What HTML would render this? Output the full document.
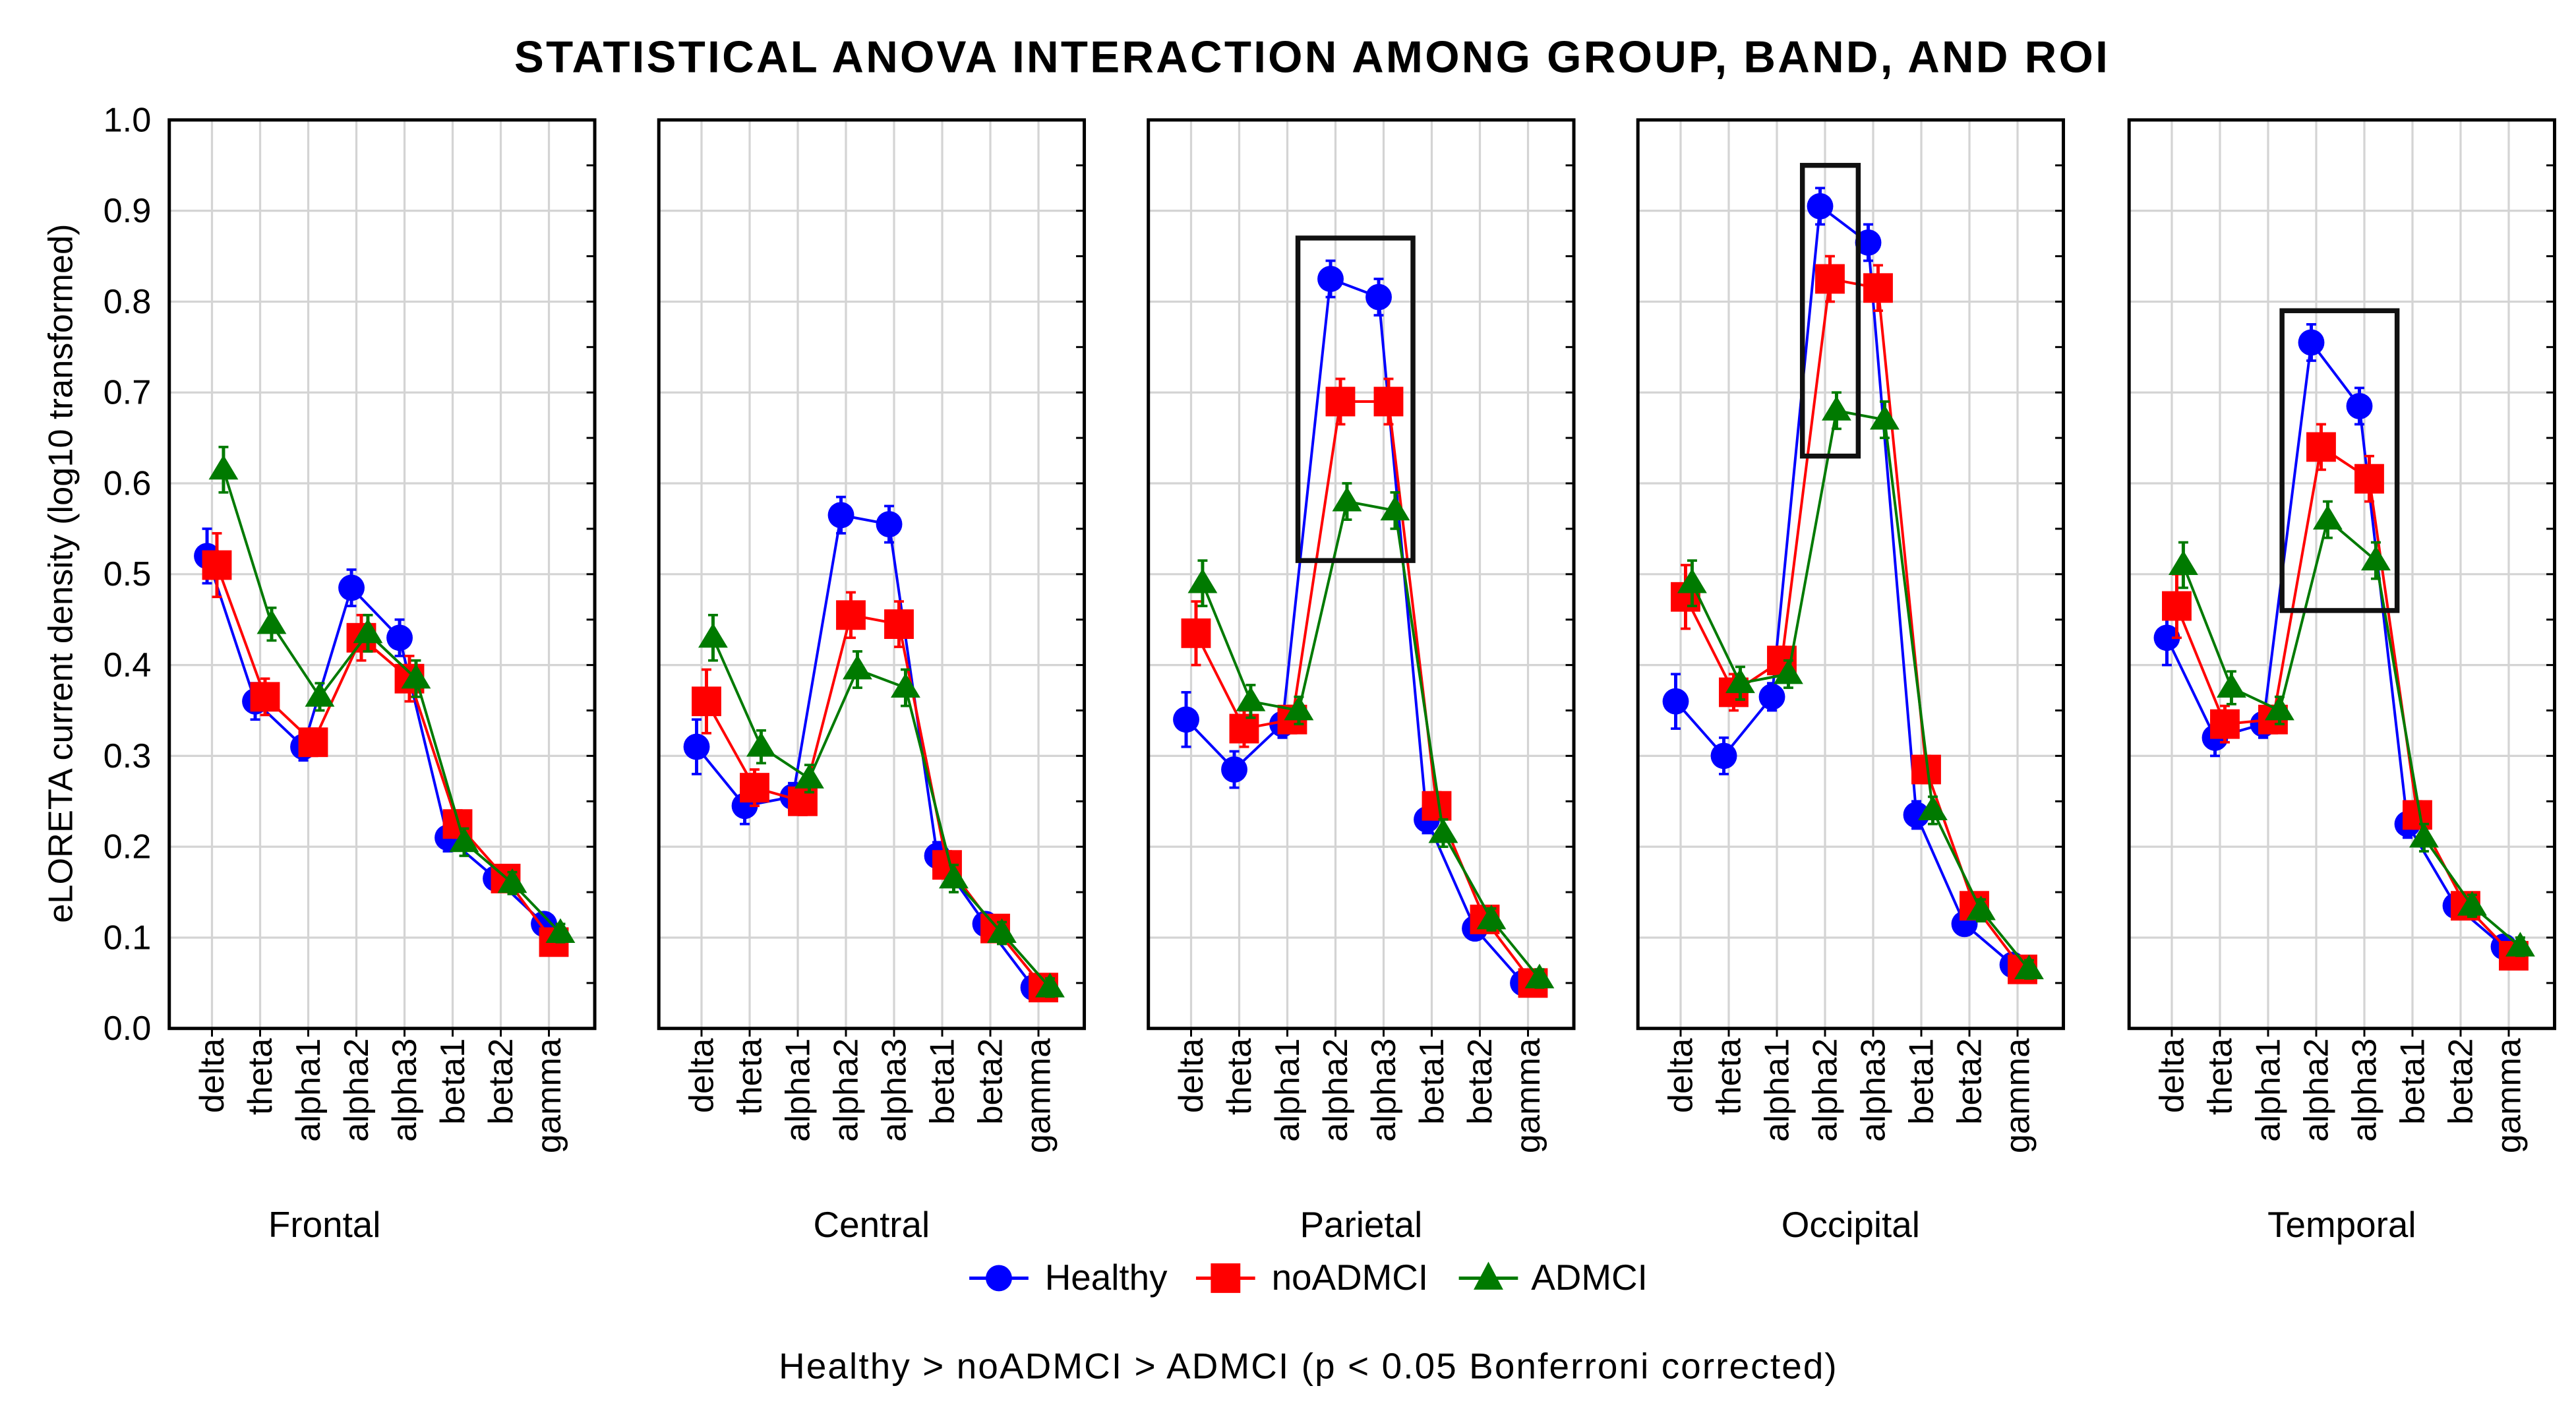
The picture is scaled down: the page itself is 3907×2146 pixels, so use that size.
<!DOCTYPE html>
<html><head><meta charset="utf-8"><style>
html,body{margin:0;padding:0;background:#fff}
svg{display:block}
text{font-family:"Liberation Sans",Arial,sans-serif}
</style></head><body>
<svg id="chart" xmlns="http://www.w3.org/2000/svg" width="3907" height="2146" viewBox="0 0 1568 861.3">
<rect width="1568" height="861.3" fill="#fff"/>
<text x="798" y="44" text-anchor="middle" font-size="27" font-weight="bold" textLength="970">STATISTICAL ANOVA INTERACTION AMONG GROUP, BAND, AND ROI</text>
<text transform="translate(44,349) rotate(-90)" text-anchor="middle" font-size="21">eLORETA current density (log10 transformed)</text>
<g id="plots"></g>
<g>
 <g><line x1="590" y1="778" x2="626" y2="778" stroke="#00f" stroke-width="2"/><circle cx="608" cy="778" r="8" fill="#00f"/><text x="636" y="785" font-size="22">Healthy</text></g>
 <g><line x1="728" y1="778" x2="764" y2="778" stroke="#f00" stroke-width="2"/><rect x="737" y="769" width="18" height="18" fill="#f00"/><text x="774" y="785" font-size="22">noADMCI</text></g>
 <g><line x1="888" y1="778" x2="924" y2="778" stroke="#007a00" stroke-width="2"/><polygon points="906,768 915,785 897,785" fill="#007a00"/><text x="932" y="785" font-size="22">ADMCI</text></g>
</g>
<text x="796" y="839" text-anchor="middle" font-size="22" textLength="644">Healthy &gt; noADMCI &gt; ADMCI (p &lt; 0.05 Bonferroni corrected)</text>
</svg>
<script>
const categories=["delta","theta","alpha1","alpha2","alpha3","beta1","beta2","gamma"];
const regions=["Frontal","Central","Parietal","Occipital","Temporal"];
const yTicks=["0.0","0.1","0.2","0.3","0.4","0.5","0.6","0.7","0.8","0.9","1.0"];
const healthy=[
 [.52,.36,.31,.485,.43,.21,.165,.115],
 [.31,.245,.255,.565,.555,.19,.115,.045],
 [.34,.285,.335,.825,.805,.23,.11,.05],
 [.36,.30,.365,.905,.865,.235,.115,.07],
 [.43,.32,.335,.755,.685,.225,.135,.09]];
const noADMCI=[
 [.51,.365,.315,.43,.385,.225,.165,.095],
 [.36,.265,.25,.455,.445,.18,.11,.045],
 [.435,.33,.34,.69,.69,.245,.12,.05],
 [.475,.37,.405,.825,.815,.285,.135,.065],
 [.465,.335,.34,.64,.605,.235,.135,.08]];
const ADMCI=[
 [.615,.445,.365,.435,.385,.205,.16,.105],
 [.43,.31,.275,.395,.375,.165,.105,.045],
 [.49,.36,.35,.58,.57,.215,.12,.055],
 [.49,.38,.39,.68,.67,.24,.13,.065],
 [.51,.375,.35,.56,.515,.21,.135,.09]];
const errH=[.03,.02,.015,.02,.02,.015,.012,.012];
const errN=[.035,.02,.015,.025,.025,.015,.012,.012];
const errA=[.025,.018,.015,.02,.02,.015,.012,.01];
const boxRegions=[2,3,4];
const boxTop=[.87,.95,.79];
const boxBottom=[.515,.63,.46];
const boxFrom=[2.22,2.53,2.29];
const boxTo=[4.61,3.69,4.68];

(function(){
const NS="http://www.w3.org/2000/svg";
const root=document.getElementById('plots');
const panelLeft=[103,401,699,997,1296], panelW=259, pTop=73, pBottom=626;
const labelShift=[-35,0,0,0,0];
const yS=v=>pBottom-v*(pBottom-pTop);
function xS(p,i){return panelLeft[p]+26+i*29.3;}
function mk(tag,attrs,parent){const e=document.createElementNS(NS,tag);for(const k in attrs)e.setAttribute(k,attrs[k]);(parent||root).appendChild(e);return e;}
const series=[
 {name:'healthy',data:healthy,err:errH,color:'#0000ff',dx:-3,shape:'circle'},
 {name:'noadmci',data:noADMCI,err:errN,color:'#ff0000',dx:3,shape:'square'},
 {name:'admci',data:ADMCI,err:errA,color:'#007a00',dx:7,shape:'tri'}];
regions.forEach((r,p)=>{
 const g=mk('g',{});
 
 
 const L=panelLeft[p],R=L+panelW;
 yTicks.forEach((t,k)=>{const v=+t;const y=yS(v);
  if(k>0&&k<10){const gl=mk('line',{x1:L,x2:R,y1:y,y2:y,stroke:'#d4d4d4','stroke-width':1.3},g);
   
   }
  mk('line',{x1:R-5,x2:R,y1:y,y2:y,stroke:'#000','stroke-width':1.2},g);
  if(k<10)mk('line',{x1:R-5,x2:R,y1:yS(v+0.05),y2:yS(v+0.05),stroke:'#000','stroke-width':1.2},g);
  if(p===0){const tl=mk('text',{x:92,y:y+7,'text-anchor':'end','font-size':21},g);tl.textContent=t;
   
   }
 });
 categories.forEach((c,i)=>{const x=xS(p,i);
  const vl=mk('line',{x1:x,x2:x,y1:pTop,y2:pBottom,stroke:'#d4d4d4','stroke-width':1.3},g);
  
  
  mk('line',{x1:x,x2:x,y1:pBottom,y2:pBottom+5,stroke:'#000','stroke-width':1.2},g);
  const tx=mk('text',{transform:`translate(${x+7},${pBottom+6}) rotate(-90)`,'text-anchor':'end','font-size':21},g);
  tx.textContent=c;
  
  
 });
 const fr=mk('rect',{x:L,y:pTop,width:panelW,height:pBottom-pTop,fill:'none',stroke:'#000','stroke-width':2},g);
 
 
 const rl=mk('text',{x:L+panelW/2+labelShift[p],y:753,'text-anchor':'middle','font-size':22},g);
 rl.textContent=r;
 
 
 series.forEach(s=>{
  const vals=s.data[p];
  const pts=vals.map((v,i)=>[xS(p,i)+s.dx,yS(v)]);
  const ln=mk('polyline',{points:pts.map(q=>q.join(',')).join(' '),fill:'none',stroke:s.color,'stroke-width':1.6},g);
  
  
  vals.forEach((v,i)=>{const x=pts[i][0],y=pts[i][1];const e=s.err[i];
   mk('line',{x1:x,x2:x,y1:yS(v+e),y2:yS(v-e),stroke:s.color,'stroke-width':2},g);
   mk('line',{x1:x-3,x2:x+3,y1:yS(v+e),y2:yS(v+e),stroke:s.color,'stroke-width':1.5},g);
   mk('line',{x1:x-3,x2:x+3,y1:yS(v-e),y2:yS(v-e),stroke:s.color,'stroke-width':1.5},g);
   let m;
   if(s.shape==='circle')m=mk('circle',{cx:x,cy:y,r:8,fill:s.color},g);
   else if(s.shape==='square')m=mk('rect',{x:x-9,y:y-9,width:18,height:18,fill:s.color},g);
   else m=mk('polygon',{points:`${x},${y-9} ${x+9},${y+6} ${x-9},${y+6}`,fill:s.color},g);
   
   
  });
 });
});
boxRegions.forEach((p,k)=>{
 const x1=xS(p,boxFrom[k]),x2=xS(p,boxTo[k]);
 const b=mk('rect',{x:x1,y:yS(boxTop[k]),width:x2-x1,height:yS(boxBottom[k])-yS(boxTop[k]),fill:'none',stroke:'#111','stroke-width':3});
 
 
});
})();
</script>
</body></html>
